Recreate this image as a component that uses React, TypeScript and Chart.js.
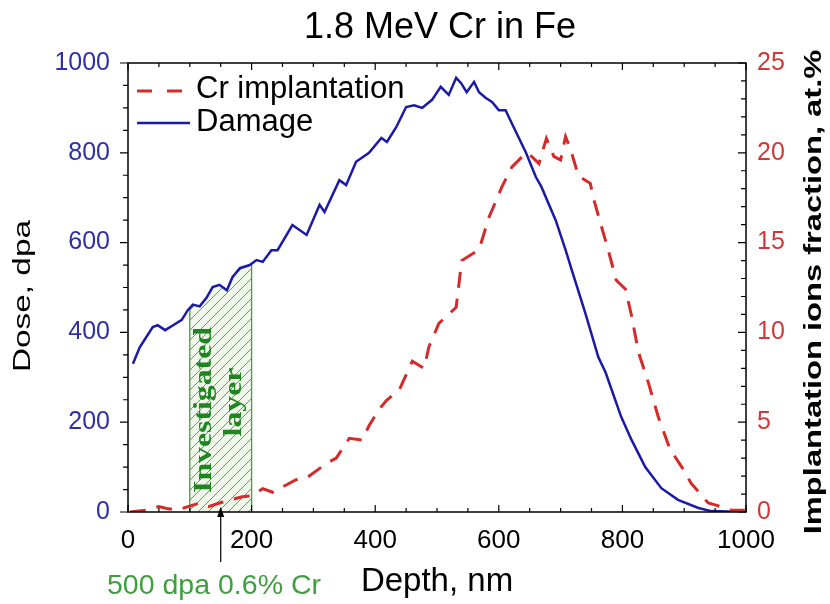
import React, { useEffect, useRef } from "react";
import { Chart, registerables } from "chart.js";

Chart.register(...registerables);

// ---------- data ----------
const damageDepth = [8, 19, 40, 48, 60, 73, 87, 97, 105, 116, 127, 137, 148, 160, 169, 181, 197, 208, 218, 232, 242, 266, 289, 310, 318, 342, 353, 369, 390, 410, 419, 434, 450, 463, 476, 492, 506, 519, 531, 539, 548, 560, 568, 579, 589, 600, 611, 621, 644, 660, 669, 692, 708, 718, 740, 761, 773, 798, 815, 837, 863, 890, 923, 944, 998];
const damageDose = [330, 367, 412, 416, 405, 416, 428, 450, 462, 458, 477, 501, 506, 494, 523, 543, 550, 561, 557, 583, 583, 639, 617, 684, 668, 739, 728, 780, 800, 833, 824, 857, 902, 906, 900, 918, 947, 929, 967, 955, 935, 958, 935, 922, 913, 895, 895, 866, 800, 746, 724, 650, 584, 539, 443, 345, 310, 212, 160, 100, 53, 27, 9, 2, 0];

const implDepth = [3, 31, 50, 63, 80, 97, 116, 130, 148, 169, 185, 200, 218, 234, 272, 289, 321, 337, 358, 379, 390, 406, 418, 439, 460, 479, 487, 503, 531, 540, 568, 584, 605, 621, 644, 653, 665, 677, 689, 700, 708, 716, 729, 748, 753, 766, 777, 790, 805, 815, 826, 842, 858, 877, 902, 911, 939, 950, 976, 998];
const implFraction = [0, 0.1, 0.3, 0.2, 0.1, 0.3, 0.5, 0.3, 0.5, 0.7, 0.85, 0.9, 1.3, 1.1, 1.8, 1.9, 2.7, 3.0, 4.1, 4.0, 4.8, 5.7, 6.2, 6.8, 8.4, 8.0, 9.2, 10.5, 11.4, 14.0, 14.6, 16.4, 18.1, 19.2, 20.0, 19.8, 19.4, 20.8, 19.8, 19.6, 20.9, 20.2, 18.7, 18.3, 17.5, 15.9, 14.6, 12.9, 12.4, 10.9, 8.9, 7.2, 5.3, 3.5, 2.2, 1.6, 0.5, 0.4, 0.1, 0.1];

const depthRange = [0, 1000];
const doseRange = [0, 1000];
const fractionRange = [0, 25];
const layerRange = [100, 200];
const arrowDepth = 150;

const titleText = "1.8 MeV Cr in Fe";
const legendLabels = ["Cr implantation", "Damage"];
const xTitle = "Depth, nm";
const yTitle = "Dose, dpa";
const y2Title = "Implantation ions fraction, at.%";
const layerLines = ["Investigated", "layer"];
const noteText = "500 dpa 0.6% Cr";

// ---------- style ----------
const F = "'Liberation Sans', Arial, sans-serif";
const FS = "'Liberation Serif', 'Times New Roman', serif";
const BLUE = "#1a1aa6";
const RED = "#d42a2a";
const BLUE_LBL = "#2f2fa6";
const RED_LBL = "#d03838";
const GREEN = "#4a9a40";
const GREEN_TXT = "#1f861f";

function makePattern(ctx: CanvasRenderingContext2D) {
  const c = document.createElement("canvas");
  c.width = 10;
  c.height = 10;
  const g = c.getContext("2d")!;
  g.fillStyle = "#f0f8ec";
  g.fillRect(0, 0, 10, 10);
  g.strokeStyle = "#5aa050";
  g.lineWidth = 1;
  g.beginPath();
  g.moveTo(-1, 11);
  g.lineTo(11, -1);
  g.moveTo(-1, 1);
  g.lineTo(1, -1);
  g.moveTo(9, 11);
  g.lineTo(11, 9);
  g.stroke();
  return ctx.createPattern(c, "repeat");
}

function vtext(ctx: CanvasRenderingContext2D, text: string, x: number, cy: number, font: string, stretch: number, color: string) {
  ctx.save();
  ctx.font = font;
  ctx.fillStyle = color;
  ctx.translate(x, cy);
  ctx.rotate(-Math.PI / 2);
  ctx.scale(stretch, 1);
  ctx.textAlign = "center";
  ctx.textBaseline = "alphabetic";
  ctx.fillText(text, 0, 0);
  ctx.restore();
}

function interpDose(d: number) {
  for (let i = 0; i < damageDepth.length - 1; i++) {
    if (d >= damageDepth[i] && d <= damageDepth[i + 1]) {
      const t = (d - damageDepth[i]) / (damageDepth[i + 1] - damageDepth[i]);
      return damageDose[i] + t * (damageDose[i + 1] - damageDose[i]);
    }
  }
  return 0;
}

const plain = (v: any) => String(v);

export default function App() {
  const ref = useRef<HTMLCanvasElement>(null);
  useEffect(() => {
    document.body.style.margin = "0";
    const canvas = ref.current!;
    const ctx = canvas.getContext("2d")!;
    const pattern = makePattern(ctx);

    const hatchPlugin = {
      id: "hatch",
      beforeDatasetsDraw(chart: any) {
        const c = chart.ctx as CanvasRenderingContext2D;
        const xs = chart.scales.x, ys = chart.scales.y;
        const x0 = xs.getPixelForValue(layerRange[0]);
        const x1 = xs.getPixelForValue(layerRange[1]);
        const yb = ys.getPixelForValue(0);
        const top = chart.chartArea.top;
        c.save();
        c.beginPath();
        c.rect(x0, top, x1 - x0, yb - top);
        c.clip();
        c.beginPath();
        c.moveTo(xs.getPixelForValue(damageDepth[0]), yb);
        for (let i = 0; i < damageDepth.length; i++) {
          c.lineTo(xs.getPixelForValue(damageDepth[i]), ys.getPixelForValue(damageDose[i]));
        }
        c.lineTo(xs.getPixelForValue(damageDepth[damageDepth.length - 1]), yb);
        c.closePath();
        c.fillStyle = pattern as any;
        c.fill();
        c.restore();
        c.save();
        c.strokeStyle = GREEN;
        c.lineWidth = 1.3;
        c.beginPath();
        c.moveTo(x0, yb);
        c.lineTo(x0, ys.getPixelForValue(interpDose(layerRange[0])));
        c.moveTo(x1, yb);
        c.lineTo(x1, ys.getPixelForValue(interpDose(layerRange[1])));
        c.stroke();
        c.restore();
        vtext(c, layerLines[0], x0 + 21, 410, `bold 25px ${FS}`, 1.27, GREEN_TXT);
        vtext(c, layerLines[1], x0 + 51, 402, `bold 25px ${FS}`, 1.27, GREEN_TXT);
      },
    };

    const decoPlugin = {
      id: "deco",
      afterDatasetsDraw(chart: any) {
        const c = chart.ctx as CanvasRenderingContext2D;
        const { left, right, top, bottom } = chart.chartArea;
        const xs = chart.scales.x, ys = chart.scales.y, y2 = chart.scales.y2;
        c.save();
        // frame
        c.strokeStyle = "#000";
        c.lineWidth = 1.5;
        c.strokeRect(left, top, right - left, bottom - top);
        c.lineWidth = 1.2;
        c.beginPath();
        for (let v = depthRange[0]; v <= depthRange[1]; v += 50) {
          const px = xs.getPixelForValue(v);
          const L = v % 200 === 0 ? 7 : 4;
          c.moveTo(px, bottom);
          c.lineTo(px, bottom - L);
          c.moveTo(px, top);
          c.lineTo(px, top + L);
        }
        for (let v = doseRange[0]; v <= doseRange[1]; v += 50) {
          const py = ys.getPixelForValue(v);
          const L = v % 200 === 0 ? 8 : 5;
          c.moveTo(left, py);
          c.lineTo(left - L, py);
        }
        for (let v = fractionRange[0]; v <= fractionRange[1]; v += 1) {
          const py = y2.getPixelForValue(v);
          const L = v % 5 === 0 ? 8 : 5;
          c.moveTo(right, py);
          c.lineTo(right - L, py);
        }
        c.stroke();

        // title
        c.fillStyle = "#000";
        c.font = `36px ${F}`;
        c.textAlign = "center";
        c.textBaseline = "alphabetic";
        c.fillText(titleText, (left + right) / 2 + 3, 38);

        // legend
        c.lineWidth = 3;
        c.strokeStyle = RED;
        c.setLineDash([15, 15]);
        c.beginPath();
        c.moveTo(137, 91);
        c.lineTo(186, 91);
        c.stroke();
        c.setLineDash([]);
        c.lineWidth = 2.5;
        c.strokeStyle = BLUE;
        c.beginPath();
        c.moveTo(137, 123);
        c.lineTo(190, 123);
        c.stroke();
        c.font = `31px ${F}`;
        c.textAlign = "left";
        c.fillStyle = "#000";
        c.fillText(legendLabels[0], 196, 98);
        c.fillText(legendLabels[1], 196, 131);

        // axis titles
        vtext(c, yTitle, 30, 296, `23px ${F}`, 1.45, "#000");
        vtext(c, y2Title, 821, 292, `bold 23px ${F}`, 1.42, "#000");

        // arrow
        const ax = xs.getPixelForValue(arrowDepth);
        c.strokeStyle = "#000";
        c.lineWidth = 1.2;
        c.beginPath();
        c.moveTo(ax, bottom + 50);
        c.lineTo(ax, bottom + 2);
        c.stroke();
        c.fillStyle = "#000";
        c.beginPath();
        c.moveTo(ax, bottom - 5);
        c.lineTo(ax - 3.5, bottom + 5);
        c.lineTo(ax + 3.5, bottom + 5);
        c.closePath();
        c.fill();

        // note
        c.font = `28px ${F}`;
        c.fillStyle = "#3f9f3f";
        const w = c.measureText(noteText).width;
        c.save();
        c.translate(107, 594);
        c.scale(214 / w, 1);
        c.textAlign = "left";
        c.fillText(noteText, 0, 0);
        c.restore();
        c.restore();
      },
    };

    const chart = new Chart(ctx, {
      type: "line",
      data: {
        datasets: [
          {
            label: legendLabels[0],
            data: implDepth.map((x, i) => ({ x, y: implFraction[i] })),
            yAxisID: "y2",
            borderColor: RED,
            borderWidth: 3,
            borderDash: [16, 11],
            pointRadius: 0,
            fill: false,
            tension: 0,
          },
          {
            label: legendLabels[1],
            data: damageDepth.map((x, i) => ({ x, y: damageDose[i] })),
            yAxisID: "y",
            borderColor: BLUE,
            borderWidth: 2.5,
            pointRadius: 0,
            fill: false,
            tension: 0,
          },
        ],
      },
      options: {
        responsive: false,
        animation: false,
        layout: { padding: { top: 63, left: 0, right: 0, bottom: 0 } },
        plugins: {
          legend: { display: false },
          tooltip: { enabled: false },
          title: { display: false },
        },
        scales: {
          x: {
            type: "linear",
            position: "bottom",
            min: depthRange[0],
            max: depthRange[1],
            ticks: { stepSize: 200, color: "#000", font: { family: F, size: 26 }, padding: 13, maxRotation: 0, autoSkip: false, callback: plain },
            grid: { display: false, drawTicks: false },
            border: { display: false },
            title: { display: true, text: xTitle, color: "#000", font: { family: F, size: 33 }, padding: { top: 0, bottom: 2 } },
            afterFit: (s: any) => { s.height = 92; },
          },
          y: {
            type: "linear",
            position: "left",
            min: doseRange[0],
            max: doseRange[1],
            ticks: { stepSize: 200, color: BLUE_LBL, font: { family: F, size: 25 }, padding: 18, callback: plain },
            grid: { display: false, drawTicks: false },
            border: { display: false },
            afterFit: (s: any) => { s.width = 128; },
          },
          y2: {
            type: "linear",
            position: "right",
            min: fractionRange[0],
            max: fractionRange[1],
            ticks: { stepSize: 5, color: RED_LBL, font: { family: F, size: 25 }, padding: 11, callback: plain },
            grid: { display: false, drawTicks: false },
            border: { display: false },
            afterFit: (s: any) => { s.width = 84; },
          },
        },
      } as any,
      plugins: [hatchPlugin, decoPlugin],
    });
    return () => chart.destroy();
  }, []);
  return (
    <div style={{ width: 830, height: 604, overflow: "hidden", background: "#fff" }}>
      <canvas ref={ref} width={830} height={604} style={{ display: "block", width: 830, height: 604 }} />
    </div>
  );
}
